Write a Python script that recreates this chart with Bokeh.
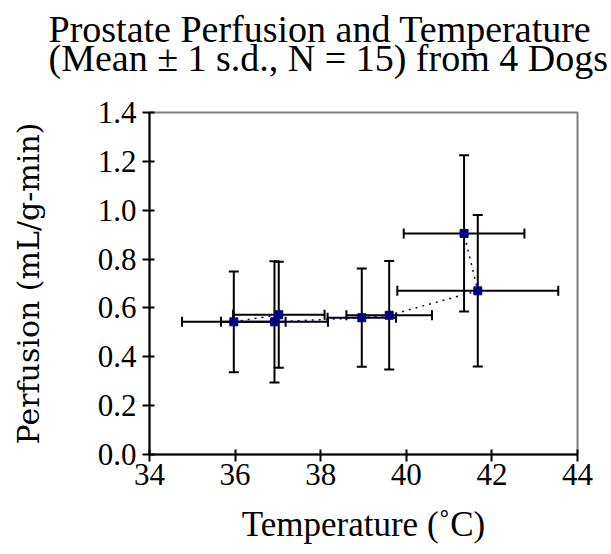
from bokeh.plotting import figure
from bokeh.models import ColumnDataSource, Whisker, TeeHead, Title, FixedTicker, Range1d
from bokeh.embed import file_html
from bokeh.resources import INLINE

# ---- data ----
temperature = [35.97, 37.02, 36.92, 38.96, 39.60, 41.67, 41.35]
perfusion = [0.543, 0.572, 0.543, 0.560, 0.570, 0.670, 0.905]
temperature_sd = [1.21, 1.07, 1.25, 0.80, 1.00, 1.88, 1.41]
perfusion_sd = [0.206, 0.217, 0.248, 0.201, 0.222, 0.310, 0.320]

x_ticks = [34, 36, 38, 40, 42, 44]
y_ticks = [0.0, 0.2, 0.4, 0.6, 0.8, 1.0, 1.2, 1.4]
y_tick_labels = ["0.0", "0.2", "0.4", "0.6", "0.8", "1.0", "1.2", "1.4"]

title_line1 = "Prostate Perfusion and Temperature"
title_line2 = "(Mean \u00b1 1 s.d., N = 15) from 4 Dogs"
x_label = "Temperature (\u02daC)"
y_label = "Perfusion (mL/g-min)"

src = ColumnDataSource(dict(
    T=temperature,
    v=perfusion,
    T_lo=[t - s for t, s in zip(temperature, temperature_sd)],
    T_hi=[t + s for t, s in zip(temperature, temperature_sd)],
    v_lo=[v - s for v, s in zip(perfusion, perfusion_sd)],
    v_hi=[v + s for v, s in zip(perfusion, perfusion_sd)],
))

SERIF = "Liberation Serif"

p = figure(width=611, height=554, x_range=Range1d(34, 44), y_range=Range1d(0, 1.4),
           output_backend="svg", toolbar_location=None,
           min_border_left=149, min_border_right=34, min_border_top=112, min_border_bottom=100)

# two-line title; a trailing blank line lifts the text block away from the frame
title = Title(text=title_line1 + "\n" + title_line2 + "\n\u00a0", text_font=SERIF,
              text_font_size="38px", text_font_style="normal", text_color="black",
              align="left", offset=-101, vertical_align="bottom", standoff=10,
              text_line_height=0.68)
p.add_layout(title, "above")

p.background_fill_color = "white"
p.border_fill_color = "white"
p.outline_line_color = "#808080"
p.outline_line_width = 2
p.xgrid.grid_line_color = None
p.ygrid.grid_line_color = None

for ax in (p.xaxis[0], p.yaxis[0]):
    ax.axis_line_color = "black"
    ax.axis_line_width = 2
    ax.major_tick_line_color = "black"
    ax.major_tick_line_width = 2
    ax.major_tick_in = 5
    ax.major_tick_out = 7
    ax.minor_tick_line_color = None
    ax.major_label_text_font = SERIF
    ax.major_label_text_font_size = "31px"
    ax.major_label_text_color = "black"
    ax.axis_label_text_font_style = "normal"
    ax.axis_label_text_color = "black"

p.xaxis.ticker = FixedTicker(ticks=x_ticks)
p.yaxis.ticker = FixedTicker(ticks=y_ticks)
p.yaxis.major_label_overrides = {t: l for t, l in zip(y_ticks, y_tick_labels)}
p.xaxis.major_label_standoff = 2
p.yaxis.major_label_standoff = 6
p.yaxis.major_label_text_baseline = "alphabetic"

p.xaxis.axis_label = x_label
p.xaxis.axis_label_text_font = SERIF
p.xaxis.axis_label_text_font_size = "35px"
p.xaxis.axis_label_standoff = 17

p.yaxis.axis_label = y_label
p.yaxis.axis_label_text_font = "DejaVu Serif"
p.yaxis.axis_label_text_font_size = "30px"
p.yaxis.axis_label_standoff = 49

head = dict(size=10, line_width=2, line_color="black")
vw = Whisker(base="T", lower="v_lo", upper="v_hi", source=src, dimension="height",
             line_color="black", line_width=2,
             lower_head=TeeHead(**head), upper_head=TeeHead(**head))
hw = Whisker(base="v", lower="T_lo", upper="T_hi", source=src, dimension="width",
             line_color="black", line_width=2,
             lower_head=TeeHead(**head), upper_head=TeeHead(**head))
p.add_layout(vw)
p.add_layout(hw)

p.line("T", "v", source=src, line_color="#000080", line_width=1.5, line_dash="2 5")
p.scatter("T", "v", source=src, marker="square", size=8, fill_color="#000080",
          line_color="#000080")

open("out.html", "w").write(file_html(p, INLINE))
